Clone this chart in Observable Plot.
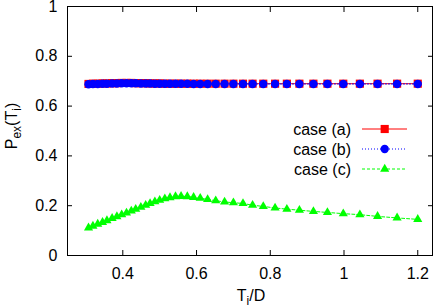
<!DOCTYPE html>
<html><head><meta charset="utf-8">
<script src="https://cdn.jsdelivr.net/npm/d3@7"></script>
<script src="https://cdn.jsdelivr.net/npm/@observablehq/plot@0.6"></script>
<style>
body{margin:0;background:#fff}
svg{font-family:"Liberation Sans",Arial,Helvetica,sans-serif}
</style>
</head><body><div id="chart"></div>
<script>
const tValues = [0.307,0.319,0.332,0.345,0.357,0.371,0.384,0.397,0.410,0.423,
  0.435,0.449,0.462,0.474,0.487,0.500,0.514,0.528,0.543,0.558,
  0.575,0.592,0.610,0.630,0.652,0.676,0.700,0.726,0.752,0.781,
  0.813,0.845,0.879,0.917,0.955,0.998,1.043,1.091,1.144,1.200];
const caseA = [0.689,0.690,0.690,0.691,0.691,0.692,0.692,0.693,0.693,0.693,
  0.692,0.692,0.692,0.691,0.691,0.691,0.690,0.690,0.690,0.690,
  0.690,0.690,0.690,0.690,0.690,0.690,0.690,0.690,0.690,0.690,
  0.690,0.690,0.690,0.690,0.690,0.690,0.690,0.690,0.690,0.690];
const caseB = [0.688,0.689,0.689,0.690,0.690,0.691,0.691,0.692,0.692,0.692,
  0.692,0.691,0.691,0.691,0.690,0.690,0.690,0.690,0.690,0.690,
  0.690,0.689,0.689,0.689,0.689,0.689,0.689,0.689,0.689,0.689,
  0.689,0.689,0.689,0.689,0.689,0.689,0.689,0.689,0.689,0.689];
const caseC = [0.111,0.118,0.126,0.133,0.140,0.149,0.156,0.164,0.171,0.179,
  0.186,0.194,0.202,0.209,0.216,0.222,0.228,0.233,0.237,0.238,
  0.237,0.234,0.230,0.225,0.220,0.215,0.212,0.209,0.202,0.197,
  0.191,0.186,0.182,0.177,0.173,0.168,0.164,0.157,0.151,0.145];
const xTicks = [0.4,0.6,0.8,1,1.2];
const yTicks = [0,0.2,0.4,0.6,0.8,1];
const seriesNames = ["case (a)","case (b)","case (c)"];
const seriesColors = ["#ff0000","#0000ff","#00ff00"];
const seriesSymbols = ["square","circle","triangle"];

const rows = (vals) => tValues.map((t,i)=>({t, p: vals[i]}));
const rA = rows(caseA), rB = rows(caseB), rC = rows(caseC);
const fmt = d3.format("~g");

const chart = Plot.plot({
  width:436, height:307,
  marginLeft:67, marginRight:4, marginTop:6, marginBottom:52,
  style:{fontFamily:'"Liberation Sans",Arial,sans-serif', fontSize:"16px", color:"#000", background:"#fff"},
  x:{domain:[0.25,1.24]},
  y:{domain:[0,1]},
  marks:[
    Plot.frame({stroke:"#000", strokeWidth:1}),
    Plot.axisX(xTicks, {tickSize:5, fill:"none", dy:-5, label:null}),
    Plot.axisX(xTicks, {anchor:"top", tickSize:5, fill:"none", dy:5, label:null}),
    Plot.axisY(yTicks, {tickSize:5, fill:"none", dx:5, label:null}),
    Plot.axisY(yTicks, {anchor:"right", tickSize:5, fill:"none", dx:-5, label:null}),
    Plot.axisX(xTicks, {tickSize:0, tickPadding:12, label:null, tickFormat:fmt, fontSize:16}),
    Plot.axisY(yTicks, {tickSize:0, tickPadding:10, label:null, tickFormat:fmt, fontSize:16}),
    Plot.line(rA, {x:"t", y:"p", stroke:seriesColors[0], strokeWidth:1}),
    Plot.dot(rA, {x:"t", y:"p", symbol:seriesSymbols[0], r:4.6, fill:seriesColors[0]}),
    Plot.line(rB, {x:"t", y:"p", stroke:seriesColors[1], strokeWidth:1, strokeDasharray:"1,2"}),
    Plot.dot(rB, {x:"t", y:"p", symbol:seriesSymbols[1], r:4.2, fill:seriesColors[1]}),
    Plot.line(rC, {x:"t", y:"p", stroke:seriesColors[2], strokeWidth:1, strokeDasharray:"3,2"}),
    Plot.dot(rC, {x:"t", y:"p", symbol:seriesSymbols[2], r:3.4, fill:seriesColors[2]})
  ]
});
document.getElementById("chart").appendChild(chart);

const svg = d3.select(chart);
// legend
const leg = svg.append("g");
const symSizes = [4.6, 4.2, 3.4];
const dashes = [null, "1,2", "3,2"];
const symMap = {square:d3.symbolSquare, circle:d3.symbolCircle, triangle:d3.symbolTriangle};
seriesNames.forEach((name,i)=>{
  const y = 129 + i*20;
  leg.append("text").attr("x",351).attr("y",y).attr("dy","0.35em")
    .attr("text-anchor","end").attr("font-size",16).attr("fill","#000").text(name);
  leg.append("line").attr("x1",362).attr("x2",407).attr("y1",y).attr("y2",y)
    .attr("stroke",seriesColors[i]).attr("stroke-width",1)
    .attr("stroke-dasharray",dashes[i]);
  leg.append("path").attr("transform",`translate(384.7,${y})`)
    .attr("d", d3.symbol(symMap[seriesSymbols[i]], Math.PI*symSizes[i]*symSizes[i])())
    .attr("fill",seriesColors[i]);
});
// axis labels with subscripts
const yl = svg.append("text").attr("transform","translate(17,126) rotate(-90)")
  .attr("text-anchor","middle").attr("font-size",16).attr("fill","#000");
yl.append("tspan").text("P");
yl.append("tspan").attr("font-size",12).attr("dy",4).text("ex");
yl.append("tspan").attr("dy",-4).text("(T");
yl.append("tspan").attr("font-size",12).attr("dy",4).text("i");
yl.append("tspan").attr("dy",-4).text(")");
const xl = svg.append("text").attr("x",251).attr("y",301)
  .attr("text-anchor","middle").attr("font-size",16).attr("fill","#000");
xl.append("tspan").text("T");
xl.append("tspan").attr("font-size",12).attr("dy",4).text("i");
xl.append("tspan").attr("dy",-4).text("/D");
</script>
</body></html>
